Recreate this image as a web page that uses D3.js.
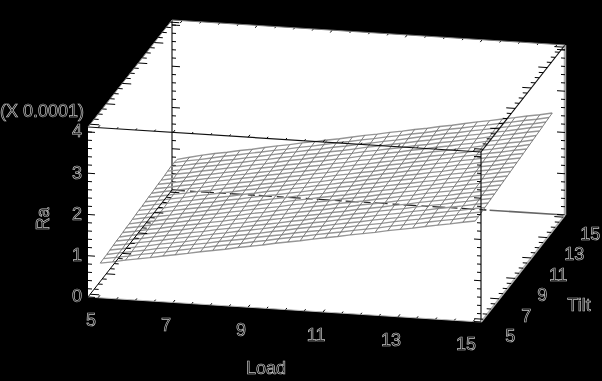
<!DOCTYPE html>
<html>
<head>
<meta charset="utf-8">
<style>
  html, body { margin: 0; padding: 0; background: #000; }
  svg { display: block; }
  text { font-family: "Liberation Sans", sans-serif; font-size: 18px; fill: #000; stroke: #c4c4c4; stroke-width: 0.7px; filter: grayscale(1); }
</style>
<script src="https://cdn.jsdelivr.net/npm/d3@7"></script>
</head>
<body>
<svg width="602" height="381"></svg>
<script>
// surface mesh positions
var loadGrid = [5,5.33,5.67,6,6.33,6.67,7,7.33,7.67,8,8.33,8.67,9,9.33,9.67,10,10.33,10.67,11,11.33,11.67,12,12.33,12.67,13,13.33,13.67,14,14.33,14.67,15];
var tiltGrid = [5,5.4,5.8,6.2,6.6,7,7.4,7.8,8.2,8.6,9,9.4,9.8,10.2,10.6,11,11.4,11.8,12.2,12.6,13,13.4,13.8,14.2,14.6];

// Ra (x 0.0001), one row per tilt value, one column per load value
var raGrid = [
  [.77,.82,.88,.93,.98,1.04,1.09,1.14,1.20,1.25,1.30,1.36,1.41,1.46,1.52,1.57,1.62,1.68,1.73,1.78,1.84,1.89,1.94,2.00,2.05,2.10,2.16,2.21,2.26,2.32,2.37],
  [.78,.83,.88,.94,.99,1.04,1.10,1.15,1.20,1.26,1.31,1.36,1.42,1.47,1.53,1.58,1.63,1.69,1.74,1.79,1.85,1.90,1.95,2.01,2.06,2.11,2.17,2.22,2.27,2.33,2.38],
  [.78,.84,.89,.94,1.00,1.05,1.11,1.16,1.21,1.27,1.32,1.37,1.43,1.48,1.53,1.59,1.64,1.69,1.75,1.80,1.86,1.91,1.96,2.02,2.07,2.12,2.18,2.23,2.28,2.34,2.39],
  [.79,.84,.90,.95,1.01,1.06,1.11,1.17,1.22,1.27,1.33,1.38,1.43,1.49,1.54,1.60,1.65,1.70,1.76,1.81,1.86,1.92,1.97,2.02,2.08,2.13,2.19,2.24,2.29,2.35,2.40],
  [.80,.85,.91,.96,1.01,1.07,1.12,1.17,1.23,1.28,1.34,1.39,1.44,1.50,1.55,1.60,1.66,1.71,1.77,1.82,1.87,1.93,1.98,2.03,2.09,2.14,2.20,2.25,2.30,2.36,2.41],
  [.81,.86,.91,.97,1.02,1.07,1.13,1.18,1.24,1.29,1.34,1.40,1.45,1.50,1.56,1.61,1.67,1.72,1.77,1.83,1.88,1.94,1.99,2.04,2.10,2.15,2.20,2.26,2.31,2.37,2.42],
  [.81,.87,.92,.97,1.03,1.08,1.14,1.19,1.24,1.30,1.35,1.41,1.46,1.51,1.57,1.62,1.67,1.73,1.78,1.84,1.89,1.94,2.00,2.05,2.11,2.16,2.21,2.27,2.32,2.38,2.43],
  [.82,.87,.93,.98,1.04,1.09,1.14,1.20,1.25,1.31,1.36,1.41,1.47,1.52,1.58,1.63,1.68,1.74,1.79,1.85,1.90,1.95,2.01,2.06,2.12,2.17,2.22,2.28,2.33,2.39,2.44],
  [.83,.88,.94,.99,1.04,1.10,1.15,1.21,1.26,1.31,1.37,1.42,1.48,1.53,1.58,1.64,1.69,1.75,1.80,1.85,1.91,1.96,2.02,2.07,2.13,2.18,2.23,2.29,2.34,2.40,2.45],
  [.83,.89,.94,1.00,1.05,1.11,1.16,1.21,1.27,1.32,1.38,1.43,1.48,1.54,1.59,1.65,1.70,1.76,1.81,1.86,1.92,1.97,2.03,2.08,2.14,2.19,2.24,2.30,2.35,2.41,2.46],
  [.84,.90,.95,1.00,1.06,1.11,1.17,1.22,1.28,1.33,1.38,1.44,1.49,1.55,1.60,1.66,1.71,1.76,1.82,1.87,1.93,1.98,2.04,2.09,2.14,2.20,2.25,2.31,2.36,2.42,2.47],
  [.85,.90,.96,1.01,1.07,1.12,1.17,1.23,1.28,1.34,1.39,1.45,1.50,1.56,1.61,1.66,1.72,1.77,1.83,1.88,1.94,1.99,2.04,2.10,2.15,2.21,2.26,2.32,2.37,2.43,2.48],
  [.86,.91,.96,1.02,1.07,1.13,1.18,1.24,1.29,1.35,1.40,1.45,1.51,1.56,1.62,1.67,1.73,1.78,1.84,1.89,1.95,2.00,2.05,2.11,2.16,2.22,2.27,2.33,2.38,2.44,2.49],
  [.86,.92,.97,1.03,1.08,1.14,1.19,1.24,1.30,1.35,1.41,1.46,1.52,1.57,1.63,1.68,1.74,1.79,1.85,1.90,1.95,2.01,2.06,2.12,2.17,2.23,2.28,2.34,2.39,2.45,2.50],
  [.87,.92,.98,1.03,1.09,1.14,1.20,1.25,1.31,1.36,1.42,1.47,1.53,1.58,1.63,1.69,1.74,1.80,1.85,1.91,1.96,2.02,2.07,2.13,2.18,2.24,2.29,2.35,2.40,2.46,2.51],
  [.88,.93,.99,1.04,1.10,1.15,1.21,1.26,1.31,1.37,1.42,1.48,1.53,1.59,1.64,1.70,1.75,1.81,1.86,1.92,1.97,2.03,2.08,2.14,2.19,2.25,2.30,2.36,2.41,2.47,2.52],
  [.88,.94,.99,1.05,1.10,1.16,1.21,1.27,1.32,1.38,1.43,1.49,1.54,1.60,1.65,1.71,1.76,1.82,1.87,1.93,1.98,2.04,2.09,2.15,2.20,2.26,2.31,2.37,2.42,2.48,2.53],
  [.89,.94,1.00,1.05,1.11,1.17,1.22,1.28,1.33,1.39,1.44,1.50,1.55,1.60,1.66,1.71,1.77,1.82,1.88,1.93,1.99,2.04,2.10,2.15,2.21,2.26,2.32,2.37,2.43,2.48,2.54],
  [.90,.95,1.01,1.06,1.12,1.17,1.23,1.28,1.34,1.39,1.45,1.50,1.56,1.61,1.67,1.72,1.78,1.83,1.89,1.94,2.00,2.05,2.11,2.16,2.22,2.27,2.33,2.38,2.44,2.49,2.55],
  [.90,.96,1.01,1.07,1.12,1.18,1.23,1.29,1.35,1.40,1.46,1.51,1.57,1.62,1.68,1.73,1.79,1.84,1.90,1.95,2.01,2.06,2.12,2.17,2.23,2.28,2.34,2.39,2.45,2.50,2.56],
  [.91,.97,1.02,1.08,1.13,1.19,1.24,1.30,1.35,1.41,1.47,1.52,1.58,1.63,1.69,1.74,1.80,1.85,1.91,1.96,2.02,2.07,2.13,2.18,2.24,2.29,2.35,2.40,2.46,2.52,2.57],
  [.92,.97,1.03,1.09,1.14,1.20,1.25,1.31,1.36,1.42,1.47,1.53,1.58,1.64,1.69,1.75,1.81,1.86,1.92,1.97,2.03,2.08,2.14,2.19,2.25,2.30,2.36,2.41,2.47,2.53,2.58],
  [.93,.98,1.04,1.09,1.15,1.20,1.26,1.31,1.37,1.43,1.48,1.54,1.59,1.65,1.70,1.76,1.81,1.87,1.92,1.98,2.04,2.09,2.15,2.20,2.26,2.31,2.37,2.42,2.48,2.53,2.59],
  [.93,.99,1.04,1.10,1.16,1.21,1.27,1.32,1.38,1.43,1.49,1.54,1.60,1.66,1.71,1.77,1.82,1.88,1.93,1.99,2.04,2.10,2.16,2.21,2.27,2.32,2.38,2.43,2.49,2.54,2.60],
  [.91,.98,1.05,1.11,1.16,1.22,1.27,1.33,1.39,1.44,1.50,1.55,1.61,1.66,1.72,1.78,1.83,1.89,1.94,2.00,2.05,2.11,2.16,2.22,2.28,2.33,2.39,2.44,2.50,2.55,2.61]
];

// axis ticks
var xMajor = [5, 7, 9, 11, 13, 15];
var xMinor = [5.5,6,6.5,7.5,8,8.5,9.5,10,10.5,11.5,12,12.5,13.5,14,14.5];
var zMajor = [0, 1, 2, 3, 4];
var zMinor = [.2,.4,.6,.8,1.2,1.4,1.6,1.8,2.2,2.4,2.6,2.8,3.2,3.4,3.6,3.8,4];

var svg = d3.select("svg");

var loadMin = 4.73, loadMax = 15.21,
    tiltMin = 4.73, tiltMax = 15.21,
    raMin = 0, raMax = 4.12;

var loadScale = d3.scaleLinear().domain([loadMin, loadMax]).range([0, 1]);
var tiltScale = d3.scaleLinear().domain([tiltMin, tiltMax]).range([0, 1]);
var raScale = d3.scaleLinear().domain([raMin, raMax]).range([0, 170]);

// oblique projection of the box
function px(load, tilt) {
  return 88 + 393 * loadScale(load) + 84 * tiltScale(tilt);
}
function py(load, tilt, ra) {
  return 297 + 25 * loadScale(load) - 107 * tiltScale(tilt) - raScale(ra);
}
function pt(load, tilt, ra) { return [px(load, tilt), py(load, tilt, ra)]; }

var A = pt(loadMin, tiltMin, raMin), B = pt(loadMax, tiltMin, raMin),
    C = pt(loadMax, tiltMax, raMin), D = pt(loadMin, tiltMax, raMin),
    E = pt(loadMin, tiltMin, raMax), F = pt(loadMax, tiltMin, raMax),
    G = pt(loadMax, tiltMax, raMax), H = pt(loadMin, tiltMax, raMax);

svg.append("polygon")
    .attr("points", [A, E, H, G, C, B].map(function(p) { return p.join(","); }).join(" "))
    .attr("fill", "#fff");

function edge(p, q, stroke, w, dash) {
  svg.append("line")
      .attr("x1", p[0]).attr("y1", p[1])
      .attr("x2", q[0]).attr("y2", q[1])
      .attr("stroke", stroke)
      .attr("stroke-width", w)
      .attr("stroke-dasharray", dash || null);
}

// ux,uy = tick direction
function ticks(list, place, ux, uy, len, stroke) {
  svg.append("g").selectAll("line")
    .data(list)
    .enter().append("line")
      .attr("x1", function(d) { return place(d)[0]; })
      .attr("y1", function(d) { return place(d)[1]; })
      .attr("x2", function(d) { return place(d)[0] + ux * len; })
      .attr("y2", function(d) { return place(d)[1] + uy * len; })
      .attr("stroke", stroke || "#000")
      .attr("stroke-width", 1);
}

var lx = 0.998, ly = 0.064;    // along load
var tx = 0.617, ty = -0.787;   // along tilt

// back edges, under the surface
var split = pt(13.2, tiltMax, raMin);
edge(D, H, "#777", 2);
edge(G, C, "#aaa", 2.5);
edge(D, split, "#222", 1.3, "13,5,7,4");
edge(split, C, "#666", 1.5);
ticks(zMajor, function(z) { return pt(loadMin, tiltMax, z); }, lx, ly, 8);
ticks(zMinor, function(z) { return pt(loadMin, tiltMax, z); }, lx, ly, 4);
ticks(zMajor, function(z) { return pt(loadMax, tiltMax, z); }, -lx, -ly, 8);
ticks(zMinor, function(z) { return pt(loadMax, tiltMax, z); }, -lx, -ly, 4);
ticks(xMajor, function(v) { return pt(v, tiltMax, raMax); }, -tx, -ty, 3);
ticks(xMinor, function(v) { return pt(v, tiltMax, raMax); }, -tx, -ty, 2);

// surface mesh
var mesh = d3.line()
    .x(function(d) { return px(d[0], d[1]); })
    .y(function(d) { return py(d[0], d[1], d[2]); });

var rows = tiltGrid.map(function(t, j) {
  return loadGrid.map(function(l, i) { return [l, t, raGrid[j][i]]; });
});
var cols = loadGrid.map(function(l, i) {
  return tiltGrid.map(function(t, j) { return [l, t, raGrid[j][i]]; });
});

svg.append("g").selectAll("path")
  .data(rows)
  .enter().append("path")
    .attr("d", mesh)
    .attr("fill", "none")
    .attr("stroke", "#969696")
    .attr("stroke-width", 1.4);

svg.append("g").selectAll("path")
  .data(cols)
  .enter().append("path")
    .attr("d", mesh)
    .attr("fill", "none")
    .attr("stroke", "#6e6e6e")
    .attr("stroke-width", 0.9);

// edges in front of the surface
edge(A, D, "#000", 1);
edge(E, F, "#111", 1.2);
edge(F, G, "#111", 1.2);
edge(F, B, "#111", 1.2);
edge(B, C, "#b5b5b5", 2);
edge(A, B, "#bbb", 1);
edge(H, G, "#777", 1);
edge(E, H, "#888", 1);

// tilt ticks, left and right sides, bottom and top
[[loadMin, raMin, 1], [loadMin, raMax, 1], [loadMax, raMin, -1], [loadMax, raMax, -1]].forEach(function(s) {
  var place = function(t) { return pt(s[0], t, s[1]); };
  ticks(xMajor, place, s[2] * lx, s[2] * ly, 9);
  ticks(xMinor, place, s[2] * lx, s[2] * ly, 4.5);
});
// load ticks, front bottom and top
[raMin, raMax].forEach(function(r) {
  var place = function(l) { return pt(l, tiltMin, r); };
  ticks(xMajor, place, tx, ty, 3);
  ticks(xMinor, place, tx, ty, 2);
});
// ra ticks on the front verticals
ticks(zMajor, function(z) { return pt(loadMin, tiltMin, z); }, lx, ly, 7);
ticks(zMinor, function(z) { return pt(loadMin, tiltMin, z); }, lx, ly, 4);
ticks(zMajor, function(z) { return pt(loadMax, tiltMin, z); }, -lx, -ly, 7);
ticks(zMinor, function(z) { return pt(loadMax, tiltMin, z); }, -lx, -ly, 4);

function labels(list, x, y) {
  svg.append("g").selectAll("text")
    .data(list)
    .enter().append("text")
      .attr("x", x)
      .attr("y", y)
      .attr("dy", "0.35em")
      .attr("text-anchor", "middle")
      .text(function(d) { return d; });
}

labels(zMajor, function(z) { return px(loadMin, tiltMin) - 11; },
               function(z) { return py(loadMin, tiltMin, z) - 1; });
labels(xMajor, function(v) { return px(v, tiltMin) - 7; },
               function(v) { return py(v, tiltMin, raMin) + 22.5; });
labels(xMajor, function(v) { return px(loadMax, v) + 27; },
               function(v) { return py(loadMax, v, raMin) + 16.5; });

svg.append("text").attr("x", 0).attr("y", 117).text("(X 0.0001)");
svg.append("text").attr("x", 266).attr("y", 374).attr("text-anchor", "middle").text("Load");
svg.append("text").attr("x", 579).attr("y", 311).attr("text-anchor", "middle").text("Tilt");
svg.append("text")
    .attr("transform", "translate(49,219) rotate(-90)")
    .attr("text-anchor", "middle")
    .text("Ra");
</script>
</body>
</html>
